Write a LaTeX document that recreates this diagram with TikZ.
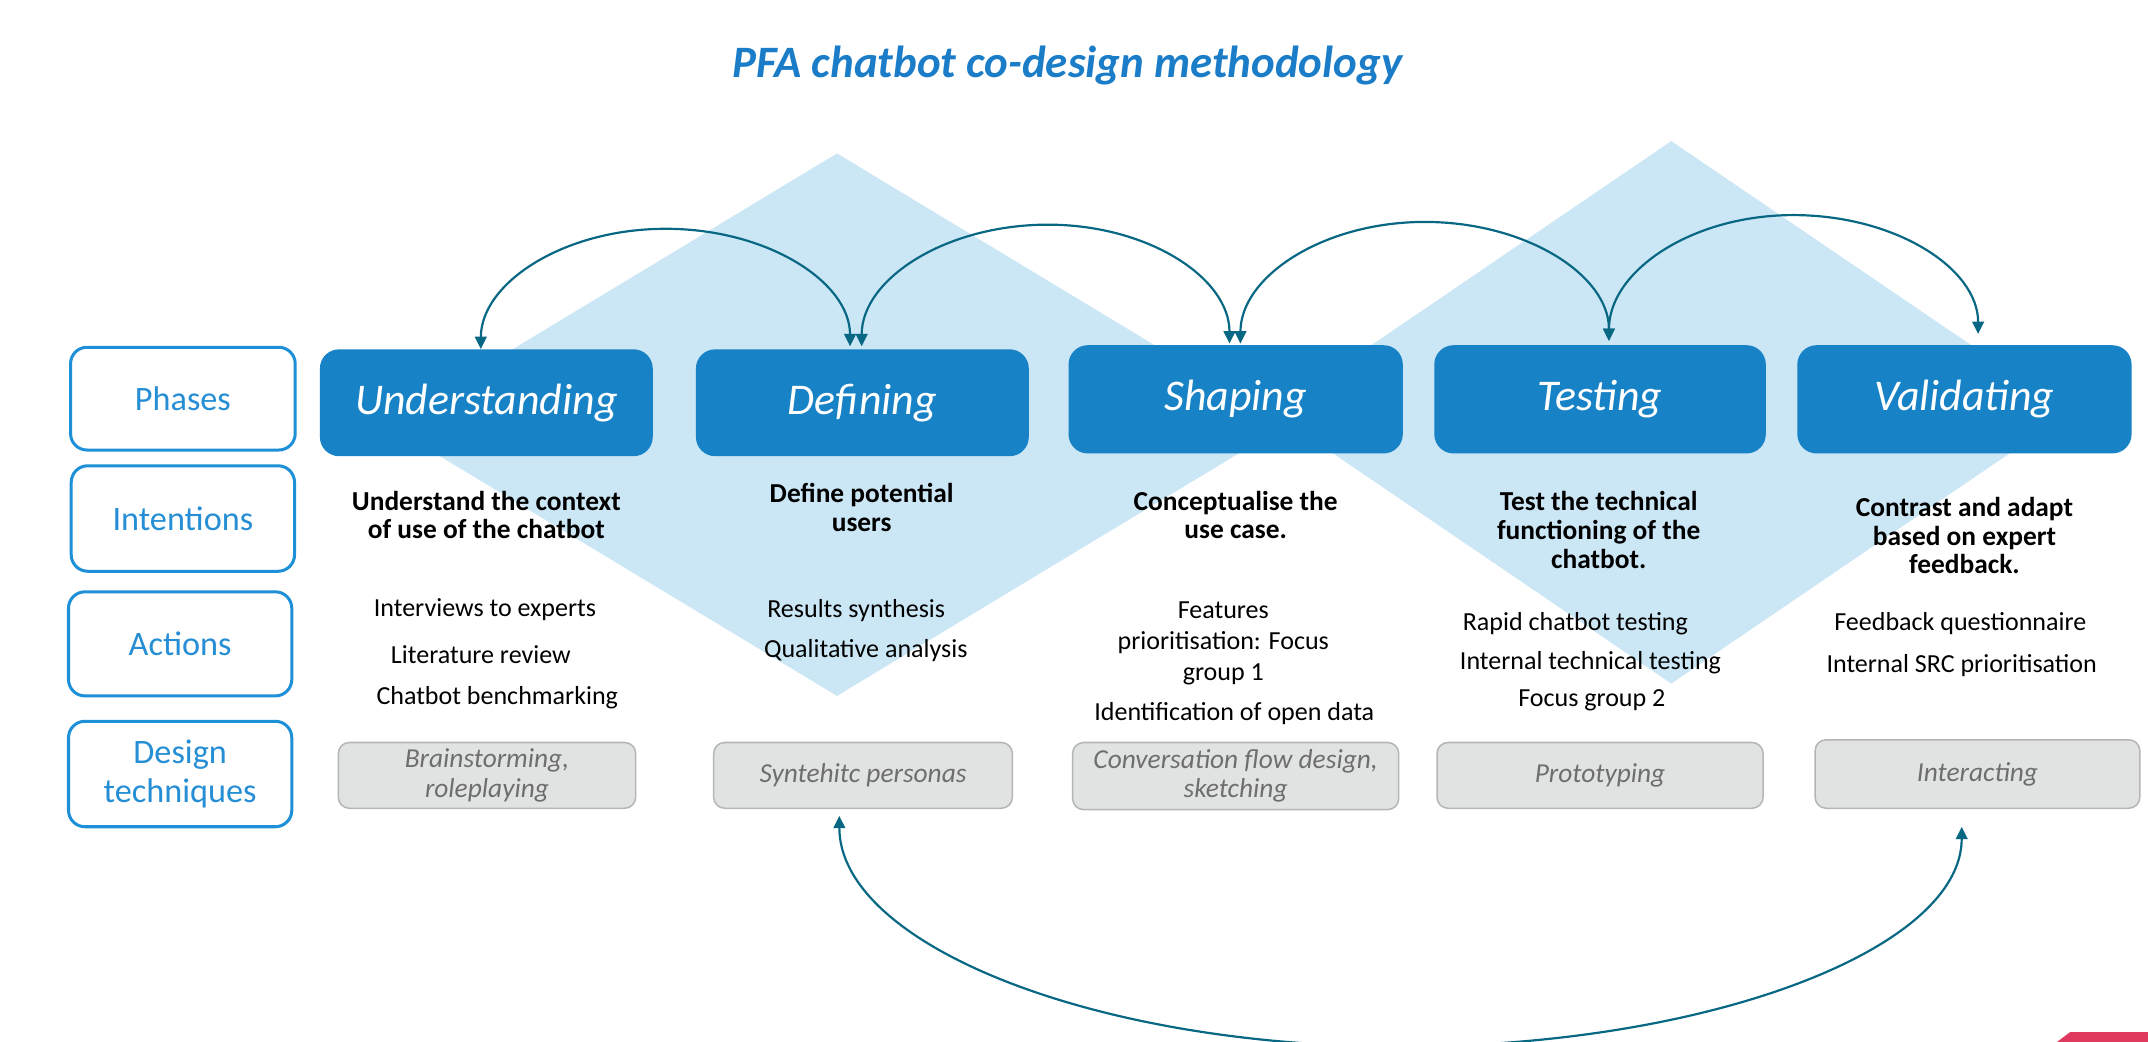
\documentclass[tikz,border=0pt]{standalone}
\usepackage{fontspec}
\setmainfont{Carlito}
\usetikzlibrary{arrows.meta,calc}
\definecolor{titleblue}{RGB}{27,125,200}
\definecolor{phaseblue}{RGB}{24,130,198}
\definecolor{lblborder}{RGB}{30,144,215}
\definecolor{lbltext}{RGB}{37,142,212}
\definecolor{diamblue}{RGB}{203,230,244}
\definecolor{arcteal}{RGB}{8,104,132}
\definecolor{greyfill}{RGB}{225,227,227}
\definecolor{greyborder}{RGB}{180,182,182}
\definecolor{greytext}{RGB}{110,110,110}
\definecolor{accentred}{RGB}{224,57,95}
\newcommand\fsz[2]{\fontsize{#1}{#2}\selectfont}
\begin{document}
\begin{tikzpicture}[x=1pt,y=-1pt,
  lblbox/.style={draw=lblborder,line width=2.2pt,rounded corners=12pt,fill=white,
    text=lbltext,align=center,minimum width=164pt,minimum height=75pt,inner sep=0pt,
    font=\fsz{25}{28}},
  phasebox/.style={fill=phaseblue,rounded corners=14pt,text=white,align=center,
    minimum width=243pt,minimum height=78pt,inner sep=0pt,font=\fsz{32}{36}\itshape},
  techbox/.style={fill=greyfill,draw=greyborder,line width=1.1pt,rounded corners=8pt,
    text=greytext,align=center,minimum height=48pt,inner sep=0pt,font=\fsz{20}{21.5}\itshape},
  intent/.style={align=center,inner sep=0pt,font=\fsz{20}{21}\bfseries},
  actn/.style={align=center,inner sep=0pt,font=\fsz{19}{22.5}},
  arc/.style={draw=arcteal,line width=1.6pt,{Triangle[length=9pt,width=8.5pt]}-{Triangle[length=9pt,width=8.5pt]}},
  diam/.style={fill=diamblue}
]
\clip (0,0) rectangle (1568,760.6);
\useasboundingbox (0,0) rectangle (1568,760.6);

% background diamonds
\fill[diam] (611,112) -- (939,310) -- (611,508) -- (283,310) -- cycle;
\fill[diam] (1220,103) -- (1511,301) -- (1220,499) -- (929,301) -- cycle;

% title
\node[text=titleblue,font=\fsz{32.8}{38}\bfseries\itshape] (title) at (779,48) {PFA chatbot co-design methodology};

% row labels
\node[lblbox] (lphases) at (133.5,291) {Phases};
\node[lblbox,minimum width=163pt,minimum height=77pt] (lintent) at (133.5,378.5) {Intentions};
\node[lblbox,minimum width=163pt,minimum height=76pt] (lactions) at (131.5,470) {Actions};
\node[lblbox,minimum width=163pt,minimum height=77pt] (ldesign) at (131.5,565) {Design\\techniques};

% phases
\node[phasebox] (p1) at (355,294) {Understanding};
\node[phasebox] (p2) at (629.5,294) {Defining};
\node[phasebox,minimum height=79pt,minimum width=244pt] (p3) at (902,291.5) {Shaping};
\node[phasebox,minimum height=79pt,minimum width=242pt] (p4) at (1168,291.5) {Testing};
\node[phasebox,minimum height=79pt,minimum width=244pt] (p5) at (1434,291.5) {Validating};

% intentions
\node[intent] (i1) at (355,376) {Understand the context\\of use of the chatbot};
\node[intent] (i2) at (629,370.5) {Define potential\\users};
\node[intent] (i3) at (902,376) {Conceptualise the\\use case.};
\node[intent] (i4) at (1167,387) {Test the technical\\functioning of the\\chatbot.};
\node[intent] (i5) at (1434,391) {Contrast and adapt\\based on expert\\feedback.};

% actions
\node[actn] (a11) at (354,445) {Interviews to experts};
\node[actn] (a12) at (351,478) {Literature review};
\node[actn] (a13) at (363,509) {Chatbot benchmarking};
\node[actn] (a21) at (625,446) {Results synthesis};
\node[actn] (a22) at (632,475) {Qualitative analysis};
\node[actn] (a31) at (893,469.5) {Features\\prioritisation: Focus\\group 1};
\node[actn] (a32) at (901,521) {Identification of open data};
\node[actn] (a41) at (1150,455) {Rapid chatbot testing};
\node[actn] (a42) at (1161,484) {Internal technical testing};
\node[actn] (a43) at (1162,511) {Focus group 2};
\node[actn] (a51) at (1431,455) {Feedback questionnaire};
\node[actn] (a52) at (1432,486) {Internal SRC prioritisation};

% design techniques
\node[techbox,minimum width=217pt] (g1) at (355.5,566) {Brainstorming,\\roleplaying};
\node[techbox,minimum width=218pt] (g2) at (630,566) {Syntehitc personas};
\node[techbox,minimum width=238pt,minimum height=49pt] (g3) at (902,566.5) {Conversation flow design,\\sketching};
\node[techbox,minimum width=238pt] (g4) at (1168,566) {Prototyping};
\node[techbox,minimum width=237pt,minimum height=50pt] (g5) at (1443.5,565) {Interacting};

% arc end points
\coordinate (e1a) at ($(p1.north)+(-4,0)$);
\coordinate (e1b) at ($(p2.north)+(-9,-2)$);
\coordinate (m1) at (486,167);
\coordinate (e2a) at ($(p2.north)+(-0.5,-2)$);
\coordinate (e2b) at ($(p3.north)+(-4.5,-1)$);
\coordinate (m2) at (765,164);
\coordinate (e3a) at ($(p3.north)+(3.5,-1)$);
\coordinate (e3b) at ($(p4.north)+(6.5,-3)$);
\coordinate (m3) at (1040,162);
\coordinate (e4a) at ($(p4.north)+(6.5,-3)$);
\coordinate (e4b) at ($(p5.north)+(10,-8)$);
\coordinate (m4) at (1309,157);
\coordinate (b1) at ($(g2.south)+(-17.3,5)$);
\coordinate (b2) at ($(g5.south)+(-11.5,13)$);
\coordinate (mb) at (1022,764);

\draw[arc] (e1a) .. controls +(0,-48) and +(-75,0) .. (m1) .. controls +(74,0) and +(0,-47) .. (e1b);
\draw[arc] (e2a) .. controls +(0,-49) and +(-75,0) .. (m2) .. controls +(73,0) and +(0,-48) .. (e2b);
\draw[arc] (e3a) .. controls +(0,-49) and +(-74,0) .. (m3) .. controls +(74,0) and +(0,-48) .. (e3b);
\draw[arc] (e4a) .. controls +(0,-51) and +(-74,0) .. (m4) .. controls +(74.5,0) and +(0,-48) .. (e4b);
\draw[arc] (b1) .. controls +(0,93) and +(-226,0) .. (mb) .. controls +(226,0) and +(0,89) .. (b2);

% corner accent
\fill[accentred] (1501,761) -- (1511,753.5) -- (1568,753.5) -- (1568,761) -- cycle;
\end{tikzpicture}
\end{document}
